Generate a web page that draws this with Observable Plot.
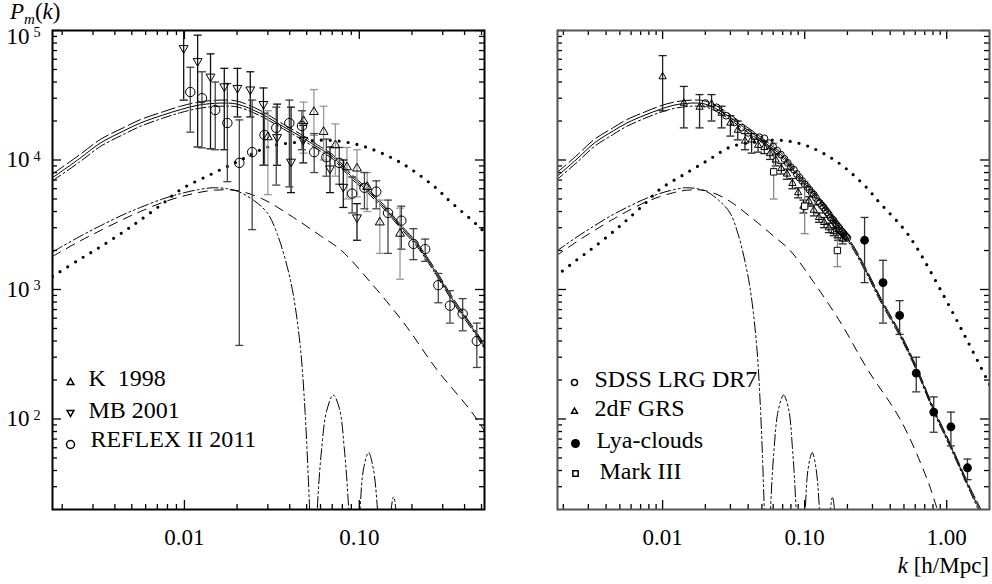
<!DOCTYPE html>
<html><head><meta charset="utf-8">
<script src="https://cdn.jsdelivr.net/npm/d3@7"></script>
<script src="https://cdn.jsdelivr.net/npm/@observablehq/plot@0.6"></script>
<style>
body{margin:0;background:#fff;}
#wrap{position:relative;width:992px;height:584px;font-family:"Liberation Serif","Times New Roman",serif;background:#fff;}
#wrap svg{position:absolute;top:0;overflow:visible;}
.lbl{position:absolute;font-size:23px;line-height:23px;white-space:nowrap;color:#000;}
</style></head><body><div id="wrap"></div>
<script>
// ---- model curves (k in h/Mpc, P in (Mpc/h)^3) ----
const totK   = [0.00176,0.0025,0.0033,0.0045,0.0056,0.0075,0.0095,0.012,0.016,0.02,0.027,0.037,0.047,0.0575,0.071,0.089,0.111,0.137,0.171,0.215,0.27,0.345,0.474,0.62,0.81,1.07,1.47,1.67,2.0];
const totP   = [7300,10200,13500,16800,19300,22200,24500,26500,27500,27000,23000,18000,15000,12600,10500,7600,5800,4400,3100,2200,1400,820,440,237,117,61,28,21,14];
const totHiP = [7800,10900,14400,17800,20500,23500,26000,28000,29000,28500,24200,18800,15600,13100,10900,7900,6000,4550,3200,2270,1450,850,455,245,121,63,29,22,14.5];
const totLoP = [6900,9600,12700,15800,18200,21000,23200,25000,26000,25700,22000,17300,14400,12100,10100,7300,5600,4250,3000,2120,1350,790,425,229,113,59,27,20,13.5];
const dotK   = [0.00176,0.0025,0.0033,0.0045,0.0056,0.0075,0.0095,0.0146,0.021,0.03,0.046,0.068,0.105,0.171,0.27,0.33,0.49,0.6,0.95,1.4,2.0];
const dotP   = [1260,1700,2130,2800,3440,4600,5900,7900,10000,12600,13800,14200,12800,9600,6200,4800,3000,2200,900,400,185];
const dashK  = [0.00176,0.0025,0.0033,0.0045,0.0056,0.0075,0.0095,0.012,0.015,0.02,0.028,0.042,0.06,0.079,0.115,0.18,0.278,0.474,0.73,0.86,1.0];
const dashP  = [1800,2350,2850,3500,4000,4700,5200,5600,5850,5800,5000,3600,2600,2000,1150,550,240,98,34,20,13];
const ddK    = [0.00176,0.0025,0.0033,0.0045,0.0056,0.0075,0.0095,0.012,0.0145,0.0175,0.0204,0.0248,0.0298,0.0339,0.0387,0.042,0.046,0.049,0.052,0.0535,0.0555,0.0575,0.061,0.065,0.071,0.077,0.082,0.087,0.0905,0.097,0.101,0.106,0.113,0.12,0.127,0.132,0.146,0.152,0.157,0.162,0.166,0.175];
const ddP    = [1950,2550,3100,3800,4300,5000,5500,5900,6100,6000,5700,4900,3900,2700,1500,900,360,112,20,8,5,20,60,115,153,120,60,20,6,6,20,42,55,42,20,6,8,20,25,20,8,3];

// ---- left panel data ----
const kK98  = [0.030,0.048,0.055,0.0625,0.073,0.085,0.097,0.111,0.131,0.171];
const pK98  = [15000,20000,23500,16500,13000,8800,8600,6200,3300,2700];
const loK98 = [5400,11300,15500,10000,7500,5000,5200,4000,1900,1200];
const hiK98 = [24000,28000,35000,26000,19000,12500,12000,8000,4900,4250];

const kMB  = [0.0099,0.0119,0.0141,0.0169,0.0201,0.0238,0.0283,0.0339,0.0407,0.0478,0.068,0.081,0.097];
const pMB  = [73000,58000,44000,37000,36000,35000,27000,15000,9700,14300,8600,6200,3600];
const loMB = [29000,12600,12200,12000,21500,21500,9100,9100,5600,9500,5600,4300,2400];
const hiMB = [120000,92000,66000,51000,51000,48000,36000,27000,25600,18500,12600,10000,4600];

const kRF  = [0.0108,0.0126,0.015,0.0176,0.0206,0.0244,0.0287,0.0335,0.0398,0.047,0.0552,0.0648,0.0768,0.091,0.107,0.125,0.146,0.174,0.204,0.238,0.283,0.33,0.39,0.47];
const pRF  = [33500,30000,24300,19300,9500,11500,15600,17700,19300,18300,11500,10500,9500,5500,6100,5700,3900,3400,2250,2050,1080,750,650,400];
const loRF = [16400,12400,12000,6800,370,2900,9100,6400,6200,12000,8000,7500,6500,3900,4200,4200,1900,2050,1700,1650,790,550,480,250];
const hiRF = [52000,48000,40000,39000,20400,29000,23000,25600,29000,24000,16000,14500,12500,7400,8000,6900,4900,4400,2950,2450,1330,980,850,550];

// ---- right panel data ----
const kSD = [0.020,0.024,0.028,0.032,0.036,0.040,0.044,0.048,0.052,0.056,0.060,0.064,0.068,0.072,0.076,0.080,0.084,0.088,0.092,0.096,0.100,0.104,0.108,0.112,0.116,0.120,0.124,0.128,0.132,0.136,0.140,0.144,0.148,0.152,0.156,0.160,0.164,0.168,0.172,0.176,0.180,0.184,0.188,0.192,0.196,0.200];
const pSD = [27500,25500,22000,19500,17800,16200,15200,15000,14700,13500,12700,11800,11000,10200,9500,8800,8400,7800,7300,6900,6500,6200,5900,5600,5400,5100,4800,4650,4450,4300,4100,3950,3800,3600,3500,3400,3250,3150,3050,2950,2850,2780,2700,2620,2550,2500];

const k2dF  = [0.0100,0.0141,0.0182,0.0221,0.0260,0.0300,0.0338,0.0380,0.0423,0.0470,0.0520,0.0570,0.0625,0.0685,0.0750,0.0820,0.0900,0.0980,0.1070,0.1160,0.1260,0.1370,0.1480,0.1600,0.1720,0.1850];
const p2dF  = [44000,27500,25600,27000,23000,19300,17000,14000,14300,13000,12500,11200,10000,8600,7800,6600,5600,4400,4800,4100,3600,3300,3000,2800,2600,2450];
const lo2dF = [24000,17700,17700,20000,17700,15300,14300,12000,11300,11500,11200,10100,9000,7800,7100,6000,5100,3900,4400,3700,3300,3000,2750,2600,2400,2250];
const hi2dF = [64000,37000,32000,32000,26000,22000,20000,16000,16000,14500,13800,12300,11000,9400,8500,7200,6100,4900,5200,4500,3900,3600,3250,3000,2800,2650];

const kM3  = [0.0605,0.100,0.170];
const pM3  = [8100,4400,2000];
const loM3 = [5000,2700,1500];
const hiM3 = [13500,6800,2500];

const kLy  = [0.264,0.356,0.466,0.61,0.81,1.07,1.40];
const pLy  = [2400,1130,630,226,113,87,42];
const loLy = [1130,550,450,162,79,62,34];
const hiLy = [3600,1680,820,300,148,113,49];

const yDomain = [20, 1e5];
const yMajor = [100, 1000, 10000, 100000];
const leftXMajor = [0.01, 0.1];
const rightXMajor = [0.01, 0.1, 1];
const legendLeft = ["K\u00a0 1998", "MB 2001", "REFLEX II 2011"];
const legendRight = ["SDSS LRG DR7", "2dF GRS", "Lya-clouds", "Mark III"];

// ---- helpers ----
const rows = (k, p, lo, hi) => k.map((v, i) => ({k: v, p: p[i], lo: lo ? lo[i] : null, hi: hi ? hi[i] : null}));
const capSym = {draw(ctx, size) { const w = Math.sqrt(size / Math.PI); ctx.moveTo(-w, 0); ctx.lineTo(w, 0); }};
function minorTicks([lo, hi]) {
  const out = [];
  for (let e = -4; e <= 5; e++) for (let m = 2; m <= 9; m++) { const v = m * Math.pow(10, e); if (v > lo * 1.0001 && v < hi * 0.9999) out.push(v); }
  return out;
}
function errMarks(data, color) {
  return [
    Plot.ruleX(data, {x: "k", y1: "lo", y2: "hi", stroke: color, strokeWidth: 1.3, clip: true}),
    Plot.dot(data, {x: "k", y: "hi", symbol: capSym, r: 4, stroke: color, strokeWidth: 1.3, clip: true}),
    Plot.dot(data, {x: "k", y: "lo", symbol: capSym, r: 4, stroke: color, strokeWidth: 1.3, clip: true})
  ];
}
function curveMarks() {
  const o = {x: "k", y: "p", stroke: "#000", strokeWidth: 1, curve: "catmull-rom", clip: true};
  return [
    Plot.line(rows(dotK, dotP), {...o, strokeWidth: 3.2, strokeDasharray: "0,9", strokeLinecap: "round"}),
    Plot.line(rows(dashK, dashP), {...o, strokeDasharray: "9,7"}),
    Plot.line(rows(ddK, ddP), {...o, strokeDasharray: "11,3,2,3,2,3"}),
    Plot.line(rows(totK, totHiP), {...o, strokeDasharray: "14,4"}),
    Plot.line(rows(totK, totLoP), {...o, strokeDasharray: "10,3,2,3"}),
    Plot.line(rows(totK, totP), o)
  ];
}
function tickMarks(xDomain, xMajor, pw, ph, color) {
  const xm = minorTicks(xDomain), ym = minorTicks(yDomain);
  const s = {stroke: color, strokeWidth: 1.3};
  return [
    Plot.ruleX(xMajor, {...s, insetTop: ph - 9}),
    Plot.ruleX(xMajor, {...s, insetBottom: ph - 9}),
    Plot.ruleX(xm, {...s, insetTop: ph - 5}),
    Plot.ruleX(xm, {...s, insetBottom: ph - 5}),
    Plot.ruleY(yMajor, {...s, insetRight: pw - 9}),
    Plot.ruleY(yMajor, {...s, insetLeft: pw - 9}),
    Plot.ruleY(ym, {...s, insetRight: pw - 5}),
    Plot.ruleY(ym, {...s, insetLeft: pw - 5})
  ];
}
function legendItem(label, sym, dx, dy, tdx, tdy) {
  return [
    Plot.dot([label], {x: null, y: null, frameAnchor: "bottom-left", dx, dy, ...sym}),
    Plot.text([label], {x: null, y: null, text: d => d, frameAnchor: "bottom-left", dx: tdx, dy: tdy, textAnchor: "start", lineAnchor: "middle", fontSize: 24})
  ];
}

const H = 584, MT = 30, MB = 75;
const wrap = document.getElementById("wrap");

// ---- left panel ----
{
  const W = 500, ML = 52, MR = 16, xDomain = [0.00176, 0.52];
  const pw = W - ML - MR, ph = H - MT - MB;
  const svg = Plot.plot({
    width: W, height: H, marginTop: MT, marginBottom: MB, marginLeft: ML, marginRight: MR,
    style: {fontFamily: "Liberation Serif, Times New Roman, serif", fontSize: "23px", background: "transparent", overflow: "visible"},
    x: {type: "log", domain: xDomain},
    y: {type: "log", domain: yDomain},
    marks: [
      ...curveMarks(),
      ...errMarks(rows(kK98, pK98, loK98, hiK98), "#999"),
      ...errMarks(rows(kMB, pMB, loMB, hiMB), "#111"),
      ...errMarks(rows(kRF, pRF, loRF, hiRF), "#444"),
      Plot.dot(rows(kK98, pK98), {x: "k", y: "p", symbol: "triangle", r: 3.3, stroke: "#000", strokeWidth: 1, fill: "none"}),
      Plot.dot(rows(kMB, pMB), {x: "k", y: "p", symbol: "triangle", rotate: 180, r: 3.3, stroke: "#000", strokeWidth: 1, fill: "none"}),
      Plot.dot(rows(kRF, pRF), {x: "k", y: "p", symbol: "circle", r: 4.7, stroke: "#000", strokeWidth: 1, fill: "none"}),
      ...tickMarks(xDomain, leftXMajor, pw, ph, "#000"),
      Plot.frame({stroke: "#000", strokeWidth: 2}),
      Plot.axisX({ticks: leftXMajor, tickFormat: d3.format(".2f"), tickSize: 0, tickPadding: 19, label: null}),
      Plot.axisY({ticks: yMajor, tickFormat: d => "10^" + Math.round(Math.log10(d)), tickSize: 0, tickPadding: 12, label: null}),
      ...legendItem(legendLeft[0], {symbol: "triangle", r: 2.5, stroke: "#000", fill: "none"}, 18, -127, 36, -131),
      ...legendItem(legendLeft[1], {symbol: "triangle", rotate: 180, r: 2.5, stroke: "#000", fill: "none"}, 18, -97, 36, -99),
      ...legendItem(legendLeft[2], {symbol: "circle", r: 4, stroke: "#000", fill: "none"}, 18, -65, 38, -70)
    ]
  });
  svg.style.left = "0px";
  d3.select(svg).selectAll('g[aria-label="y-axis tick label"] text').each(function() {
    const parts = this.textContent.split("^");
    const s = d3.select(this);
    s.text(null);
    s.append("tspan").text(parts[0]);
    s.append("tspan").attr("dx", "4").attr("dy", "-0.45em").attr("font-size", "0.62em").text(parts[1]);
    if (parts[1] === "5") s.attr("transform", (s.attr("transform") || "") + " translate(0,6)");
  });
  wrap.appendChild(svg);
}

// ---- right panel ----
{
  const W = 492, ML = 57, MR = 3, xDomain = [0.00182, 2.0];
  const pw = W - ML - MR, ph = H - MT - MB;
  const svg = Plot.plot({
    width: W, height: H, marginTop: MT, marginBottom: MB, marginLeft: ML, marginRight: MR,
    style: {fontFamily: "Liberation Serif, Times New Roman, serif", fontSize: "23px", background: "transparent", overflow: "visible"},
    x: {type: "log", domain: xDomain},
    y: {type: "log", domain: yDomain, axis: null},
    marks: [
      ...curveMarks(),
      ...errMarks(rows(k2dF, p2dF, lo2dF, hi2dF), "#222"),
      ...errMarks(rows(kM3, pM3, loM3, hiM3), "#888"),
      ...errMarks(rows(kLy, pLy, loLy, hiLy), "#333"),
      Plot.dot(rows(kSD, pSD), {x: "k", y: "p", symbol: "circle", r: 3.4, stroke: "#000", strokeWidth: 1, fill: "none"}),
      Plot.dot(rows(k2dF, p2dF), {x: "k", y: "p", symbol: "triangle", r: 2.7, stroke: "#000", strokeWidth: 1, fill: "none"}),
      Plot.dot(rows(kM3, pM3), {x: "k", y: "p", symbol: "square", r: 3.6, stroke: "#000", strokeWidth: 1, fill: "white"}),
      Plot.dot(rows(kLy, pLy), {x: "k", y: "p", symbol: "circle", r: 4.4, fill: "#000", stroke: "none"}),
      ...tickMarks(xDomain, rightXMajor, pw, ph, "#000"),
      Plot.frame({stroke: "#555", strokeWidth: 2}),
      Plot.axisX({ticks: rightXMajor, tickFormat: d3.format(".2f"), tickSize: 0, tickPadding: 19, label: null}),
      ...legendItem(legendRight[0], {symbol: "circle", r: 3, stroke: "#000", fill: "none"}, 17, -127, 37, -130),
      ...legendItem(legendRight[1], {symbol: "triangle", r: 2.2, stroke: "#000", fill: "none"}, 17, -98, 37, -101),
      ...legendItem(legendRight[2], {symbol: "circle", r: 4.5, fill: "#000", stroke: "none"}, 18, -66, 39, -69),
      ...legendItem(legendRight[3], {symbol: "square", r: 3, stroke: "#000", fill: "none"}, 18, -36, 42, -38)
    ]
  });
  svg.style.left = "500px";
  wrap.appendChild(svg);
}

// ---- axis titles ----
const yt = document.createElement("div");
yt.className = "lbl";
yt.style.left = "10px"; yt.style.top = "0px";
yt.innerHTML = '<i>P</i><span style="font-size:15px;position:relative;top:5px;font-style:italic">m</span>(<i>k</i>)';
wrap.appendChild(yt);
const xt = document.createElement("div");
xt.className = "lbl";
xt.style.right = "3px"; xt.style.top = "554px";
xt.innerHTML = '<i>k</i> [h/Mpc]';
wrap.appendChild(xt);
</script></body></html>
